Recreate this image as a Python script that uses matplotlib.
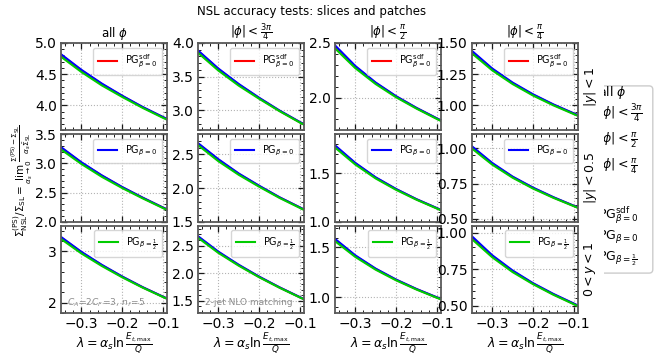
import numpy as np
import matplotlib
matplotlib.use("Agg")
import matplotlib.pyplot as plt
from matplotlib.ticker import AutoMinorLocator, FixedLocator, FixedFormatter
from matplotlib.patches import FancyBboxPatch

plt.rcParams.update({'font.size': 10,
                     'xtick.direction': 'in',
                     'ytick.direction': 'in',
                     'xtick.top': True,
                     'ytick.right': True,
                     'legend.fontsize': 7})

lam = [-0.35, -0.3, -0.25, -0.2, -0.15, -0.1, -0.09]

# rows: |y|<1, |y|<0.5, 0<y<1 ; columns: all phi, |phi|<3pi/4, |phi|<pi/2, |phi|<pi/4
sdf_row1 = [[4.81, 4.56, 4.34, 4.15, 3.97, 3.81, 3.78],
            [3.88, 3.61, 3.38, 3.18, 2.99, 2.82, 2.79],
            [2.47, 2.283, 2.133, 2.01, 1.904, 1.808, 1.79],
            [1.43, 1.29, 1.178, 1.085, 1.005, 0.934, 0.92]]
b0_row1 = [[4.82, 4.57, 4.35, 4.155, 3.975, 3.813, 3.782],
           [3.89, 3.62, 3.39, 3.185, 2.995, 2.823, 2.792],
           [2.48, 2.29, 2.138, 2.013, 1.906, 1.81, 1.791],
           [1.438, 1.296, 1.183, 1.089, 1.008, 0.936, 0.922]]
bh_row1 = [[4.78, 4.535, 4.32, 4.135, 3.96, 3.80, 3.77],
           [3.855, 3.59, 3.365, 3.17, 2.985, 2.815, 2.785],
           [2.452, 2.27, 2.124, 2.003, 1.899, 1.804, 1.786],
           [1.418, 1.281, 1.171, 1.079, 1.0, 0.93, 0.916]]

sdf_row2 = [[3.27, 3.01, 2.79, 2.59, 2.41, 2.24, 2.21],
            [2.66, 2.42, 2.21, 2.03, 1.86, 1.71, 1.68],
            [1.78, 1.60, 1.453, 1.334, 1.23, 1.138, 1.12],
            [1.01, 0.892, 0.797, 0.719, 0.652, 0.592, 0.58]]
b0_row2 = [[3.28, 3.02, 2.795, 2.595, 2.413, 2.242, 2.212],
           [2.67, 2.43, 2.217, 2.035, 1.863, 1.712, 1.682],
           [1.788, 1.606, 1.457, 1.337, 1.232, 1.14, 1.121],
           [1.016, 0.897, 0.80, 0.722, 0.654, 0.593, 0.581]]
bh_row2 = [[3.24, 2.99, 2.77, 2.577, 2.40, 2.233, 2.203],
           [2.64, 2.40, 2.197, 2.02, 1.853, 1.704, 1.675],
           [1.765, 1.589, 1.445, 1.328, 1.226, 1.135, 1.117],
           [1.0, 0.885, 0.792, 0.715, 0.649, 0.59, 0.578]]

sdf_row3 = [[3.27, 2.98, 2.73, 2.505, 2.30, 2.115, 2.08],
            [2.66, 2.38, 2.145, 1.933, 1.741, 1.564, 1.53],
            [1.58, 1.415, 1.283, 1.174, 1.08, 0.996, 0.98],
            [0.97, 0.841, 0.737, 0.652, 0.578, 0.513, 0.50]]
b0_row3 = [[3.28, 2.99, 2.737, 2.51, 2.303, 2.117, 2.082],
           [2.67, 2.39, 2.152, 1.938, 1.744, 1.566, 1.532],
           [1.588, 1.421, 1.287, 1.177, 1.082, 0.998, 0.981],
           [0.978, 0.847, 0.742, 0.655, 0.581, 0.515, 0.501]]
bh_row3 = [[3.24, 2.958, 2.714, 2.494, 2.293, 2.11, 2.075],
           [2.642, 2.367, 2.135, 1.926, 1.736, 1.56, 1.527],
           [1.565, 1.405, 1.276, 1.169, 1.076, 0.993, 0.977],
           [0.958, 0.833, 0.731, 0.648, 0.575, 0.51, 0.497]]

sdf_rows = [sdf_row1, sdf_row2, sdf_row3]
b0_rows = [b0_row1, b0_row2, b0_row3]
bh_rows = [bh_row1, bh_row2, bh_row3]

col_titles = [r'all $\phi$', r'$|\phi| < \frac{3\pi}{4}$',
              r'$|\phi| < \frac{\pi}{2}$', r'$|\phi| < \frac{\pi}{4}$']
row_labels = [r'$|y| < 1$', r'$|y| < 0.5$', r'$0 < y < 1$']
series_labels = [r'PG$^{\rm sdf}_{\beta=0}$', r'PG$_{\beta=0}$', r'PG$_{\beta=\frac{1}{2}}$']
series_colors = ['#ff0000', '#0000ff', '#00cc00']

ylims = [[(3.6, 5.0), (2.7, 4.0), (1.7, 2.5), (0.8, 1.5)],
         [(2.0, 3.5), (1.5, 2.8), (1.0, 1.9), (0.48, 1.1)],
         [(1.8, 3.5), (1.28, 2.86), (0.84, 1.72), (0.45, 1.05)]]
yticks = [[[4.0, 4.5, 5.0], [3.0, 3.5, 4.0], [2.0, 2.5], [1.0, 1.25, 1.5]],
          [[2.0, 2.5, 3.0, 3.5], [1.5, 2.0, 2.5], [1.0, 1.5], [0.5, 0.75, 1.0]],
          [[2, 3], [1.5, 2.0, 2.5], [1.0, 1.5], [0.5, 0.75, 1.0]]]
ytick_labels = [[['4.0', '4.5', '5.0'], ['3.0', '3.5', '4.0'], ['2.0', '2.5'], ['1.00', '1.25', '1.50']],
                [['2.0', '2.5', '3.0', '3.5'], ['1.5', '2.0', '2.5'], ['1.0', '1.5'], ['0.50', '0.75', '1.00']],
                [['2', '3'], ['1.5', '2.0', '2.5'], ['1.0', '1.5'], ['0.50', '0.75', '1.00']]]

fig, axes = plt.subplots(3, 4, figsize=(6.65, 3.61), dpi=100)
fig.subplots_adjust(left=0.0917, right=0.869, top=0.881, bottom=0.133,
                    wspace=0.29, hspace=0.045)

for r in range(3):
    for c in range(4):
        ax = axes[r, c]
        l1, = ax.plot(lam, sdf_rows[r][c], color=series_colors[0], lw=1.5)
        l2, = ax.plot(lam, b0_rows[r][c], color=series_colors[1], lw=1.5)
        l3, = ax.plot(lam, bh_rows[r][c], color=series_colors[2], lw=1.5)
        ax.set_xlim(-0.35, -0.09)
        ax.set_ylim(*ylims[r][c])
        ax.set_xticks([-0.3, -0.2, -0.1])
        ax.xaxis.set_minor_locator(AutoMinorLocator())
        ax.yaxis.set_major_locator(FixedLocator(yticks[r][c]))
        ax.yaxis.set_major_formatter(FixedFormatter(ytick_labels[r][c]))
        ax.yaxis.set_minor_locator(AutoMinorLocator())
        ax.grid(True, which='major', ls=':', color='0.7', lw=0.8)
        ax.tick_params(which='major', length=4, width=0.9, color='0.1', pad=3)
        ax.tick_params(which='minor', length=2, width=0.7, color='0.1')
        for sp in ax.spines.values():
            sp.set_color('0.35')
            sp.set_linewidth(1.3)
        handle = [l1, l2, l3][r]
        ax.legend(handles=[handle], labels=[series_labels[r]], loc='upper right',
                  fontsize=7, borderpad=0.5, handlelength=2.0)
        if r == 0:
            ax.set_title(col_titles[c], fontsize=8.5, pad=4)
        if r < 2:
            ax.tick_params(labelbottom=False)
        else:
            ax.set_xlabel(r'$\lambda = \alpha_s \ln\frac{E_{t,\mathrm{max}}}{Q}$', fontsize=9, labelpad=0)
        if c == 3:
            ax.yaxis.set_label_position('right')
            ax.set_ylabel(row_labels[r], fontsize=9, labelpad=3)

axes[2, 0].text(0.06, 0.12, r'$C_A\!=\!2C_F\!=\!3,\, n_f\!=\!5$', transform=axes[2, 0].transAxes,
                fontsize=6.5, color='0.55', va='center')
axes[2, 1].text(0.07, 0.12, '2-jet NLO matching', transform=axes[2, 1].transAxes,
                fontsize=6.5, color='0.55', va='center')

fig.text(0.033, 0.5,
         r'$\Sigma^{\rm (PS)}_{\rm NSL}/\Sigma_{\rm SL} = \lim_{\alpha_s\to 0}\frac{\Sigma^{\rm (PS)}-\Sigma_{\rm SL}}{\alpha_s\bar{\Sigma}_{\rm SL}}$',
         rotation=90, ha='center', va='center', fontsize=7.5)
fig.suptitle('NSL accuracy tests: slices and patches', x=0.468, y=0.985, fontsize=8.5)

# side legend, partly cut off on its left
lax = fig.add_axes([604 / 665, 1 - 275 / 361, 61 / 665, 191 / 361])
lax.axis('off')
box = FancyBboxPatch((-0.4, 0.01), 1.2, 0.98, boxstyle='round,pad=0,rounding_size=0.06',
                     transform=lax.transAxes, facecolor='white', edgecolor='0.8', lw=1.0,
                     mutation_aspect=0.32, clip_on=True)
lax.add_patch(box)
box.set_clip_path(lax.patch)
side_labels = col_titles + [''] + series_labels
side_y = [0.958, 0.848, 0.707, 0.571, 0.44, 0.314, 0.204, 0.084]
for lab, yy in zip(side_labels, side_y):
    t = lax.text(-0.098, yy, lab, transform=lax.transAxes, fontsize=9, va='center', ha='left',
                 clip_on=True)
    t.set_clip_path(lax.patch)

fig.savefig('out.png', dpi=100)
